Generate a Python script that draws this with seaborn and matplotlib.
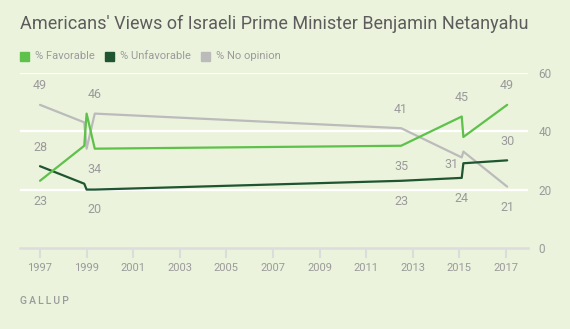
import matplotlib
matplotlib.use("Agg")
import matplotlib.pyplot as plt
import seaborn as sns
import pandas as pd

# ---- data ----
dates = [1997.0, 1998.9, 1999.0, 1999.35, 2012.5, 2015.1, 2015.17, 2017.05]
favorable = [23, 35, 46, 34, 35, 45, 38, 49]
unfavorable = [28, 22, 20, 20, 23, 24, 29, 30]
no_opinion = [49, 43, 34, 46, 41, 31, 33, 21]
series_names = ["% Favorable", "% Unfavorable", "% No opinion"]
x_ticks = [1997, 1999, 2001, 2003, 2005, 2007, 2009, 2011, 2013, 2015, 2017]
y_ticks = [0, 20, 40, 60]
title = "Americans' Views of Israeli Prime Minister Benjamin Netanyahu"
source = "GALLUP"
# labelled points: (series, index, placement)
labels = [
    ("% No opinion", 0, "above"), ("% Unfavorable", 0, "above"), ("% Favorable", 0, "below"),
    ("% No opinion", 3, "above"), ("% Favorable", 3, "below"), ("% Unfavorable", 3, "below"),
    ("% No opinion", 4, "above"), ("% Favorable", 4, "below"), ("% Unfavorable", 4, "below"),
    ("% Favorable", 5, "above"), ("% No opinion", 5, "left"), ("% Unfavorable", 5, "below"),
    ("% Favorable", 7, "above"), ("% Unfavorable", 7, "above"), ("% No opinion", 7, "below"),
]

colors = {"% Favorable": "#5EC14A", "% Unfavorable": "#1F5530", "% No opinion": "#BBBBBB"}
bg = "#EBF3DD"
txt = "#9A9A9A"

values = {"% Favorable": favorable, "% Unfavorable": unfavorable, "% No opinion": no_opinion}
df = pd.concat([pd.DataFrame({"date": dates, "value": values[s], "series": s}) for s in series_names])

sns.set_theme(style="white")
plt.rcParams["font.family"] = ["Roboto", "DejaVu Sans"]

fig = plt.figure(figsize=(5.7, 3.29), dpi=100, facecolor=bg)
ax = fig.add_axes([20/570, 1-248/329, (528-20)/570, (248-72.7)/329])
ax.set_facecolor(bg)

for y in [20, 40, 60]:
    ax.axhline(y, color="white", lw=1.6, zorder=0)

sns.lineplot(data=df, x="date", y="value", hue="series", hue_order=["% No opinion", "% Unfavorable", "% Favorable"],
             palette=colors, linewidth=1.6, ax=ax, legend=False, sort=False, estimator=None)

ax.set_xlim(1997 - 20/23.3, 1997 + 488/23.3)
ax.set_ylim(0, 60)
ax.set_xlabel("")
ax.set_ylabel("")

for sp in ["top", "left", "right"]:
    ax.spines[sp].set_visible(False)
ax.spines["bottom"].set_color("#DCDCDC")
ax.spines["bottom"].set_linewidth(1.8)

ax.set_xticks(x_ticks)
ax.set_xticklabels([str(t) for t in x_ticks])
ax.tick_params(axis="x", length=7.5, width=1.5, color="#DCDCDC", labelsize=8, labelcolor=txt, pad=3, bottom=True)
ax.yaxis.tick_right()
ax.set_yticks(y_ticks)
ax.tick_params(axis="y", length=0, labelsize=8.5, labelcolor=txt, pad=7.5, right=True, left=False)

for s, i, place in labels:
    v = values[s][i]
    if place == "above":
        off, ha, va = (0, 9), "center", "bottom"
    elif place == "below":
        off, ha, va = (0, -10), "center", "top"
    else:
        off, ha, va = (-2, -5), "right", "center"
    ax.annotate(str(v), (dates[i], v), xytext=off, textcoords="offset points",
                ha=ha, va=va, fontsize=9, color=txt)

fig.text(20/570, 1-24/329, title, fontsize=13.0, color="#5C5C5C", ha="left", va="center")

lx = 20
for s in series_names:
    fig.patches.append(plt.Rectangle((lx/570, 1-60.5/329), 9/570, 9/329, transform=fig.transFigure,
                                     color=colors[s], figure=fig))
    t = fig.text((lx+15)/570, 1-56/329, s, fontsize=8, color=txt, ha="left", va="center")
    fig.canvas.draw()
    bb = t.get_window_extent()
    lx = bb.x1 + 10

fig.text(20/570, 1-301/329, "\u2009".join(source), fontsize=7.5,
         color=txt, ha="left", va="center", fontweight="medium", family=["Roboto", "DejaVu Sans"])

fig.savefig("out.png", dpi=100, facecolor=bg)
